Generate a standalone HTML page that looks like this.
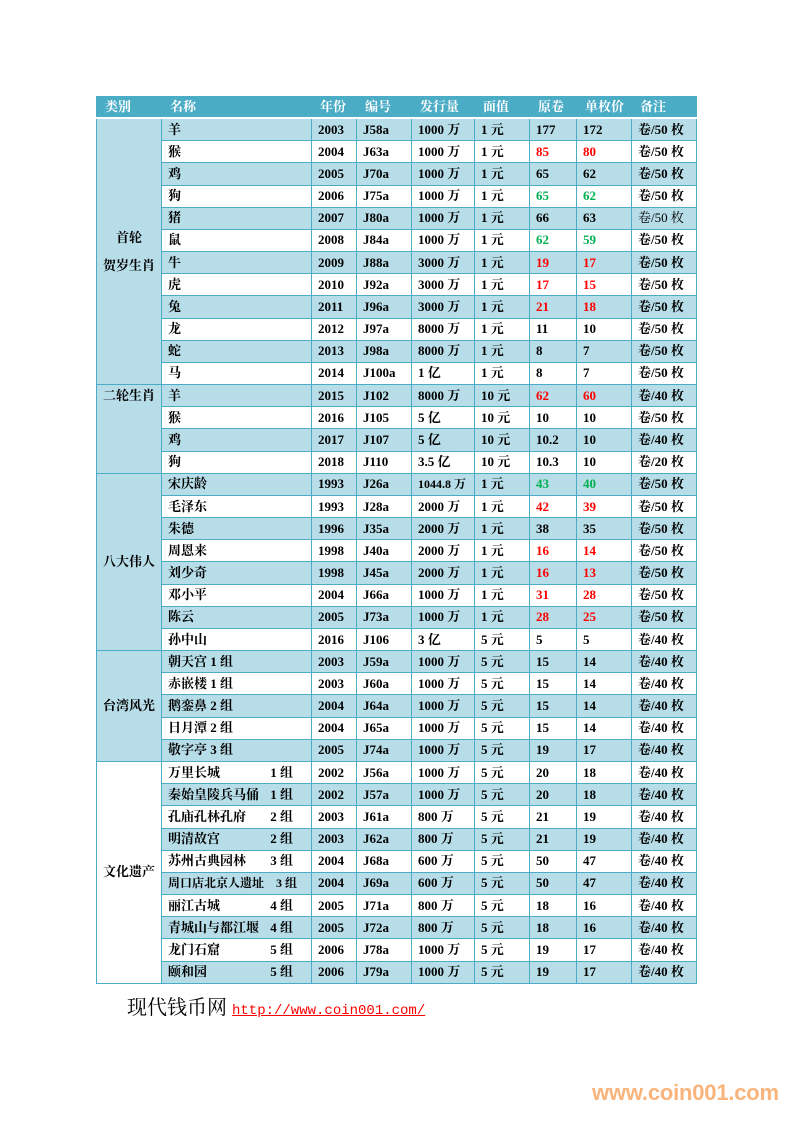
<!DOCTYPE html>
<html><head><meta charset="utf-8"><style>
body{margin:0;width:793px;height:1122px;background:#fff;position:relative;overflow:hidden;font-family:"Liberation Serif","Noto Serif CJK SC",serif;}
table{position:absolute;left:96px;top:96px;width:600px;border-collapse:collapse;table-layout:fixed;font-size:13px;font-weight:bold;color:#000;}
td{border:1px solid #4bacc6;padding:0 0 0 6px;height:21.18px;white-space:nowrap;overflow:hidden;line-height:14px;}
tr.h td{background:#4bacc6;color:#fff;height:20px;border-color:#4bacc6;border-bottom:2px solid #fff;padding-left:8px;}
tr.b td{background:#b7dde8;}
td.c{background:#b7dde8 !important;text-align:center;padding:0;}
td.w{background:#fff !important;text-align:center;padding:0;}
.r{color:#f00}.g{color:#00b050}.n{font-weight:normal}
.gp{float:right;padding-right:18px}
</style></head><body>
<table>
<colgroup><col style="width:65px"><col style="width:150px"><col style="width:45px"><col style="width:55px"><col style="width:63px"><col style="width:55px"><col style="width:47px"><col style="width:55px"><col style="width:65px"></colgroup>
<tr class="h"><td>类别</td><td>名称</td><td>年份</td><td>编号</td><td>发行量</td><td>面值</td><td>原卷</td><td>单枚价</td><td>备注</td></tr>
<tr class="b"><td class="c" rowspan="12">首轮<br><br>贺岁生肖</td><td>羊</td><td>2003</td><td>J58a</td><td>1000 万</td><td>1 元</td><td>177</td><td>172</td><td>卷/50 枚</td></tr>
<tr><td>猴</td><td>2004</td><td>J63a</td><td>1000 万</td><td>1 元</td><td class="r">85</td><td class="r">80</td><td>卷/50 枚</td></tr>
<tr class="b"><td>鸡</td><td>2005</td><td>J70a</td><td>1000 万</td><td>1 元</td><td>65</td><td>62</td><td>卷/50 枚</td></tr>
<tr><td>狗</td><td>2006</td><td>J75a</td><td>1000 万</td><td>1 元</td><td class="g">65</td><td class="g">62</td><td>卷/50 枚</td></tr>
<tr class="b"><td>猪</td><td>2007</td><td>J80a</td><td>1000 万</td><td>1 元</td><td>66</td><td>63</td><td class="n">卷/50 枚</td></tr>
<tr><td>鼠</td><td>2008</td><td>J84a</td><td>1000 万</td><td>1 元</td><td class="g">62</td><td class="g">59</td><td>卷/50 枚</td></tr>
<tr class="b"><td>牛</td><td>2009</td><td>J88a</td><td>3000 万</td><td>1 元</td><td class="r">19</td><td class="r">17</td><td>卷/50 枚</td></tr>
<tr><td>虎</td><td>2010</td><td>J92a</td><td>3000 万</td><td>1 元</td><td class="r">17</td><td class="r">15</td><td>卷/50 枚</td></tr>
<tr class="b"><td>兔</td><td>2011</td><td>J96a</td><td>3000 万</td><td>1 元</td><td class="r">21</td><td class="r">18</td><td>卷/50 枚</td></tr>
<tr><td>龙</td><td>2012</td><td>J97a</td><td>8000 万</td><td>1 元</td><td>11</td><td>10</td><td>卷/50 枚</td></tr>
<tr class="b"><td>蛇</td><td>2013</td><td>J98a</td><td>8000 万</td><td>1 元</td><td>8</td><td>7</td><td>卷/50 枚</td></tr>
<tr><td>马</td><td>2014</td><td>J100a</td><td>1 亿</td><td>1 元</td><td>8</td><td>7</td><td>卷/50 枚</td></tr>
<tr class="b"><td class="c" rowspan="4" style="vertical-align:top;padding-top:4px">二轮生肖</td><td>羊</td><td>2015</td><td>J102</td><td>8000 万</td><td>10 元</td><td class="r">62</td><td class="r">60</td><td>卷/40 枚</td></tr>
<tr><td>猴</td><td>2016</td><td>J105</td><td>5 亿</td><td>10 元</td><td>10</td><td>10</td><td>卷/50 枚</td></tr>
<tr class="b"><td>鸡</td><td>2017</td><td>J107</td><td>5 亿</td><td>10 元</td><td>10.2</td><td>10</td><td>卷/40 枚</td></tr>
<tr><td>狗</td><td>2018</td><td>J110</td><td>3.5 亿</td><td>10 元</td><td>10.3</td><td>10</td><td>卷/20 枚</td></tr>
<tr class="b"><td class="c" rowspan="8">八大伟人</td><td>宋庆龄</td><td>1993</td><td>J26a</td><td style="font-size:12px">1044.8 万</td><td>1 元</td><td class="g">43</td><td class="g">40</td><td>卷/50 枚</td></tr>
<tr><td>毛泽东</td><td>1993</td><td>J28a</td><td>2000 万</td><td>1 元</td><td class="r">42</td><td class="r">39</td><td>卷/50 枚</td></tr>
<tr class="b"><td>朱德</td><td>1996</td><td>J35a</td><td>2000 万</td><td>1 元</td><td>38</td><td>35</td><td>卷/50 枚</td></tr>
<tr><td>周恩来</td><td>1998</td><td>J40a</td><td>2000 万</td><td>1 元</td><td class="r">16</td><td class="r">14</td><td>卷/50 枚</td></tr>
<tr class="b"><td>刘少奇</td><td>1998</td><td>J45a</td><td>2000 万</td><td>1 元</td><td class="r">16</td><td class="r">13</td><td>卷/50 枚</td></tr>
<tr><td>邓小平</td><td>2004</td><td>J66a</td><td>1000 万</td><td>1 元</td><td class="r">31</td><td class="r">28</td><td>卷/50 枚</td></tr>
<tr class="b"><td>陈云</td><td>2005</td><td>J73a</td><td>1000 万</td><td>1 元</td><td class="r">28</td><td class="r">25</td><td>卷/50 枚</td></tr>
<tr><td>孙中山</td><td>2016</td><td>J106</td><td>3 亿</td><td>5 元</td><td>5</td><td>5</td><td>卷/40 枚</td></tr>
<tr class="b"><td class="c" rowspan="5">台湾风光</td><td>朝天宫 1 组</td><td>2003</td><td>J59a</td><td>1000 万</td><td>5 元</td><td>15</td><td>14</td><td>卷/40 枚</td></tr>
<tr><td>赤嵌楼 1 组</td><td>2003</td><td>J60a</td><td>1000 万</td><td>5 元</td><td>15</td><td>14</td><td>卷/40 枚</td></tr>
<tr class="b"><td>鹅銮鼻 2 组</td><td>2004</td><td>J64a</td><td>1000 万</td><td>5 元</td><td>15</td><td>14</td><td>卷/40 枚</td></tr>
<tr><td>日月潭 2 组</td><td>2004</td><td>J65a</td><td>1000 万</td><td>5 元</td><td>15</td><td>14</td><td>卷/40 枚</td></tr>
<tr class="b"><td>敬字亭 3 组</td><td>2005</td><td>J74a</td><td>1000 万</td><td>5 元</td><td>19</td><td>17</td><td>卷/40 枚</td></tr>
<tr><td class="w" rowspan="10">文化遗产</td><td>万里长城<span class="gp">1 组</span></td><td>2002</td><td>J56a</td><td>1000 万</td><td>5 元</td><td>20</td><td>18</td><td>卷/40 枚</td></tr>
<tr class="b"><td>秦始皇陵兵马俑<span class="gp">1 组</span></td><td>2002</td><td>J57a</td><td>1000 万</td><td>5 元</td><td>20</td><td>18</td><td>卷/40 枚</td></tr>
<tr><td>孔庙孔林孔府<span class="gp">2 组</span></td><td>2003</td><td>J61a</td><td>800 万</td><td>5 元</td><td>21</td><td>19</td><td>卷/40 枚</td></tr>
<tr class="b"><td>明清故宫<span class="gp">2 组</span></td><td>2003</td><td>J62a</td><td>800 万</td><td>5 元</td><td>21</td><td>19</td><td>卷/40 枚</td></tr>
<tr><td>苏州古典园林<span class="gp">3 组</span></td><td>2004</td><td>J68a</td><td>600 万</td><td>5 元</td><td>50</td><td>47</td><td>卷/40 枚</td></tr>
<tr class="b"><td style="font-size:12px">周口店北京人遗址<span class="gp" style="padding-right:14px">3 组</span></td><td>2004</td><td>J69a</td><td>600 万</td><td>5 元</td><td>50</td><td>47</td><td>卷/40 枚</td></tr>
<tr><td>丽江古城<span class="gp">4 组</span></td><td>2005</td><td>J71a</td><td>800 万</td><td>5 元</td><td>18</td><td>16</td><td>卷/40 枚</td></tr>
<tr class="b"><td>青城山与都江堰<span class="gp">4 组</span></td><td>2005</td><td>J72a</td><td>800 万</td><td>5 元</td><td>18</td><td>16</td><td>卷/40 枚</td></tr>
<tr><td>龙门石窟<span class="gp">5 组</span></td><td>2006</td><td>J78a</td><td>1000 万</td><td>5 元</td><td>19</td><td>17</td><td>卷/40 枚</td></tr>
<tr class="b"><td>颐和园<span class="gp">5 组</span></td><td>2006</td><td>J79a</td><td>1000 万</td><td>5 元</td><td>19</td><td>17</td><td>卷/40 枚</td></tr>
</table>
<div style="position:absolute;left:127px;top:995px;font-size:20px;line-height:26px;white-space:nowrap;">现代钱币网 <span style="font-family:'Liberation Mono',monospace;font-size:14px;color:#f00;text-decoration:underline;">http://www.coin001.com/</span></div>
<div style="position:absolute;left:592px;top:1080px;font-family:'Liberation Sans',sans-serif;font-weight:bold;font-size:22px;color:#f9b47c;letter-spacing:-0.2px;">www.coin001.com</div>
</body></html>
